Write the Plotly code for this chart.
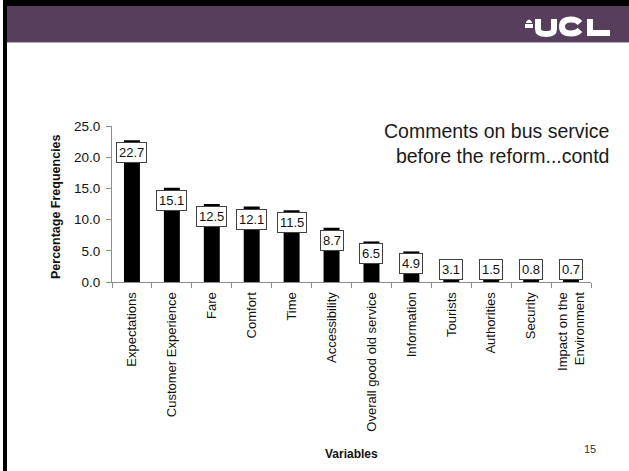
import plotly.graph_objects as go

# Survey comment categories and their share of all comments (%)
categories = [
    "Expectations", "Customer Experience", "Fare", "Comfort", "Time",
    "Accessibility", "Overall good old service", "Information", "Tourists",
    "Authorities", "Security", "Impact on the<br>Environment",
]
frequencies = [22.7, 15.1, 12.5, 12.1, 11.5, 8.7, 6.5, 4.9, 3.1, 1.5, 0.8, 0.7]
y_tick_values = [0, 5, 10, 15, 20, 25]
y_tick_labels = ["0.0", "5.0", "10.0", "15.0", "20.0", "25.0"]

FONT = "Liberation Sans, Arial, sans-serif"
W, H = 629, 471
ML, MR, MT, MB = 112, 38, 126, 189
PW, PH = W - ML - MR, H - MT - MB


def fx(x):
    """pixel x -> paper x"""
    return (x - ML) / PW


def fy(y):
    """pixel y (from top) -> paper y"""
    return (H - MB - y) / PH


fig = go.Figure(
    go.Bar(
        x=categories,
        y=frequencies,
        width=0.4,
        marker=dict(color="#000000", line=dict(width=0)),
        hoverinfo="x+y",
    )
)

annotations = []
px_per_unit = PH / 25.0
for cat, v in zip(categories, frequencies):
    inside = v * px_per_unit > 24
    annotations.append(dict(
        x=cat, y=v if inside else 0, xref="x", yref="y",
        yanchor="top" if inside else "bottom",
        yshift=-2 if inside else 2,
        text=f"{v:.1f}", showarrow=False,
        font=dict(family=FONT, size=13, color="#111111"),
        bgcolor="#ffffff", bordercolor="#404040", borderwidth=1, borderpad=2,
    ))

# slide title
annotations.append(dict(
    x=fx(611), y=fy(118), xref="paper", yref="paper", xanchor="right", yanchor="top",
    text="Comments on bus service<br>before the reform...contd", align="right",
    showarrow=False, font=dict(family=FONT, size=19.5, color="#1a1a1a"),
))
# axis titles
annotations.append(dict(
    x=fx(47), y=fy(207), xref="paper", yref="paper", textangle=-90,
    text="<b>Percentage Frequencies</b>", showarrow=False,
    font=dict(family=FONT, size=12.5, color="#111111"),
))
annotations.append(dict(
    x=fx(351), y=fy(463), xref="paper", yref="paper",
    text="<b>Variables</b>", showarrow=False,
    font=dict(family=FONT, size=12, color="#111111"),
))
# slide number
annotations.append(dict(
    x=fx(598), y=fy(457), xref="paper", yref="paper",
    text="15", showarrow=False,
    font=dict(family=FONT, size=11, color="#333333"),
))

purple = "#573e5c"
shapes = [
    # slide frame: top band and left edge
    dict(type="rect", xref="paper", yref="paper", x0=fx(3), x1=fx(W + 2),
         y0=fy(-2), y1=fy(6), fillcolor="#000000", line=dict(width=0), layer="above"),
    dict(type="rect", xref="paper", yref="paper", x0=fx(3), x1=fx(7),
         y0=fy(H + 2), y1=fy(-2), fillcolor="#000000", line=dict(width=0), layer="above"),
    # header bar
    dict(type="rect", xref="paper", yref="paper", x0=fx(7), x1=fx(W + 2),
         y0=fy(6), y1=fy(42), fillcolor=purple, line=dict(width=0), layer="above"),
    dict(type="rect", xref="paper", yref="paper", x0=fx(7), x1=fx(W + 2),
         y0=fy(42), y1=fy(43), fillcolor="#b9a9bd", line=dict(width=0), layer="above"),
]

# UCL wordmark drawn as white strokes
white = dict(color="#ffffff", width=6)
u_path = (f"M {fx(538)},{fy(19)} L {fx(538)},{fy(29)} "
          f"Q {fx(538)},{fy(34)} {fx(546)},{fy(34)} "
          f"Q {fx(554)},{fy(34)} {fx(554)},{fy(29)} L {fx(554)},{fy(19)}")
c_path = (f"M {fx(580)},{fy(23)} Q {fx(577)},{fy(19.5)} {fx(571)},{fy(19.5)} "
          f"Q {fx(562)},{fy(19.5)} {fx(562)},{fy(26.5)} "
          f"Q {fx(562)},{fy(33.5)} {fx(571)},{fy(33.5)} "
          f"Q {fx(577)},{fy(33.5)} {fx(580)},{fy(30)}")
l_path = (f"M {fx(590)},{fy(19)} L {fx(590)},{fy(33)} L {fx(610)},{fy(33)}")
for p in (u_path, c_path, l_path):
    shapes.append(dict(type="path", xref="paper", yref="paper", path=p,
                       line=white, layer="above"))
# small dome emblem beside the wordmark
shapes.append(dict(type="path", xref="paper", yref="paper",
                   path=(f"M {fx(526)},{fy(23)} L {fx(526)},{fy(22)} Q {fx(529)},{fy(17)} {fx(532)},{fy(22)} "
                         f"L {fx(532)},{fy(23)} Z"),
                   fillcolor="#ffffff", line=dict(width=0), layer="above"))
shapes.append(dict(type="rect", xref="paper", yref="paper",
                   x0=fx(525), x1=fx(533), y0=fy(28), y1=fy(24),
                   fillcolor="#ffffff", line=dict(width=0), layer="above"))

axis_grey = "#8c8c8c"
fig.update_layout(
    width=W, height=H,
    margin=dict(l=ML, r=MR, t=MT, b=MB, autoexpand=False),
    paper_bgcolor="#ffffff", plot_bgcolor="#ffffff",
    showlegend=False,
    font=dict(family=FONT, color="#111111"),
    xaxis=dict(
        type="category", tickson="boundaries", ticks="outside", ticklen=5,
        tickcolor=axis_grey, showline=True, linecolor=axis_grey, linewidth=1,
        showgrid=False, tickangle=-90, ticklabelstandoff=4,
        tickfont=dict(family=FONT, size=13, color="#111111"),
        zeroline=False,
    ),
    yaxis=dict(
        range=[0, 25], tickvals=y_tick_values, ticktext=y_tick_labels,
        ticks="outside", ticklen=5, tickcolor=axis_grey, showline=True,
        linecolor=axis_grey, linewidth=1, showgrid=False, zeroline=False,
        ticklabelstandoff=3,
        tickfont=dict(family=FONT, size=13.5, color="#111111"),
    ),
    annotations=annotations,
    shapes=shapes,
)

fig.write_html("out.html", config={"displayModeBar": False})
